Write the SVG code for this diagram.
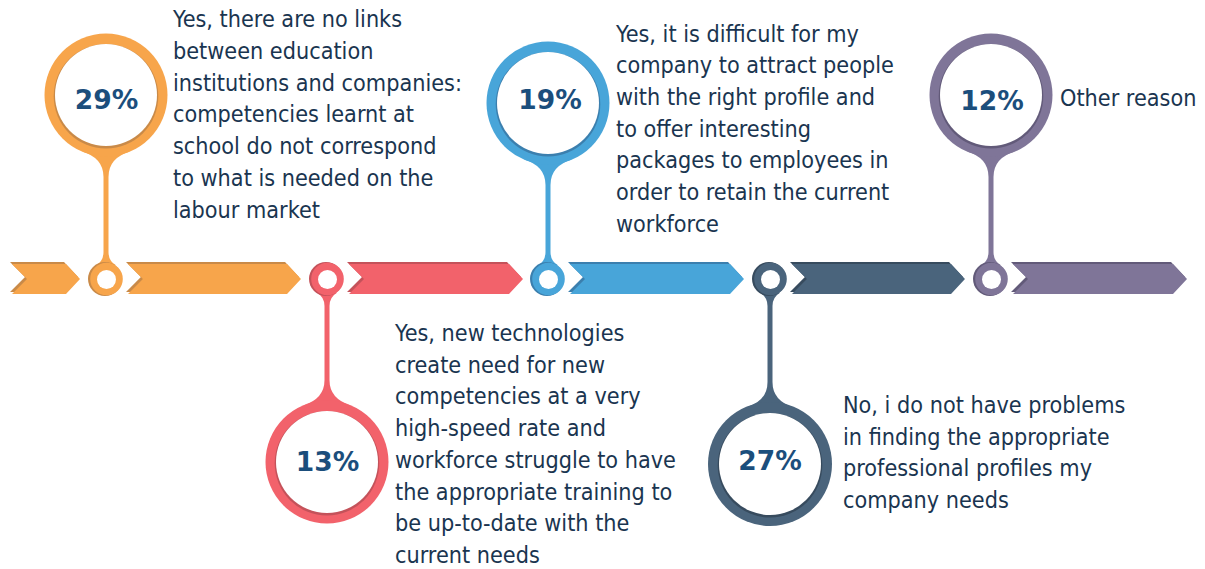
<svg xmlns="http://www.w3.org/2000/svg" width="1205" height="569" viewBox="0 0 1205 569">
<style>
.lbl{font-family:"DejaVu Sans Condensed","DejaVu Sans",sans-serif;font-stretch:condensed;font-size:23.2px;fill:#1a3550}
.pct{font-family:"DejaVu Sans",sans-serif;font-weight:bold;font-size:26.5px;fill:#1b4e7c;text-anchor:middle}
.hole{fill:#ffffff}
.o{fill:#f7a54b}.od{fill:#c98a48}
.r{fill:#f2626b}.rd{fill:#c4525a}
.b{fill:#48a5d9}.bd{fill:#3b7fae}
.s{fill:#4a647c}.sd{fill:#374b5e}
.p{fill:#7f7598}.pd{fill:#625a79}
</style>
<defs>
<polygon id="chev1" points="0,0 54,0 68,15 54,30 0,30 15,15"/>
<polygon id="chevL" points="0,0 160,0 174,15 160,30 0,30 15,15"/>
</defs>
<rect width="1205" height="569" fill="#ffffff"/>
<g id="connectors">
<use href="#chev1" class="od" transform="translate(10,262)"/>
<use href="#chev1" class="o" transform="translate(12,264)"/>
<use href="#chevL" class="od" transform="translate(126,262) scale(0.994,1)"/>
<use href="#chevL" class="o" transform="translate(128,264) scale(0.994,1)"/>
<use href="#chevL" class="rd" transform="translate(347,262)"/>
<use href="#chevL" class="r" transform="translate(349,264)"/>
<use href="#chevL" class="bd" transform="translate(568,262)"/>
<use href="#chevL" class="b" transform="translate(570,264)"/>
<use href="#chevL" class="sd" transform="translate(790,262) scale(0.994,1)"/>
<use href="#chevL" class="s" transform="translate(792,264) scale(0.994,1)"/>
<use href="#chevL" class="pd" transform="translate(1011,262)"/>
<use href="#chevL" class="p" transform="translate(1013,264)"/>
</g>
<g id="node-29">
<path class="o" d="M82,151.6 Q103.5,158 103.5,177 L103.5,252 Q103.5,261 96,265.3 L116,265.3 Q108.5,261 108.5,252 L108.5,177 Q108.5,158 130,151.6 Z"/>
<circle class="o" cx="106" cy="95" r="61.5"/>
<circle class="od" cx="106" cy="96.2" r="52.3"/>
<circle class="hole" cx="106" cy="95" r="51"/>
<circle class="od" cx="105" cy="279" r="17"/>
<circle class="o" cx="106.5" cy="279" r="16.3"/>
<circle class="hole" cx="106.5" cy="279.5" r="9.5"/>
<text class="pct" x="106.5" y="109">29%</text>
<text class="lbl" x="173">
<tspan x="173" y="27.3">Yes, there are no links</tspan>
<tspan x="173" y="59">between education</tspan>
<tspan x="173" y="90.7">institutions and companies:</tspan>
<tspan x="173" y="122.4">competencies learnt at</tspan>
<tspan x="173" y="154.1">school do not correspond</tspan>
<tspan x="173" y="185.8">to what is needed on the</tspan>
<tspan x="173" y="217.5">labour market</tspan>
</text>
</g>
<g id="node-13">
<path class="r" d="M317,292.7 Q324.5,297 324.5,306 L324.5,380 Q324.5,399 303,405.4 L351,405.4 Q329.5,399 329.5,380 L329.5,306 Q329.5,297 337,292.7 Z"/>
<circle class="r" cx="327" cy="462" r="61.5"/>
<circle class="rd" cx="327" cy="463.2" r="52.3"/>
<circle class="hole" cx="327" cy="462" r="51"/>
<circle class="rd" cx="326" cy="279" r="17"/>
<circle class="r" cx="327.5" cy="279" r="16.3"/>
<circle class="hole" cx="327.5" cy="279.5" r="9.5"/>
<text class="pct" x="327.5" y="471">13%</text>
<text class="lbl" x="395">
<tspan x="395" y="341">Yes, new technologies</tspan>
<tspan x="395" y="372.7">create need for new</tspan>
<tspan x="395" y="404.4">competencies at a very</tspan>
<tspan x="395" y="436.1">high-speed rate and</tspan>
<tspan x="395" y="467.8">workforce struggle to have</tspan>
<tspan x="395" y="499.5">the appropriate training to</tspan>
<tspan x="395" y="531.2">be up-to-date with the</tspan>
<tspan x="395" y="562.9">current needs</tspan>
</text>
</g>
<g id="node-19">
<path class="b" d="M524,159.6 Q545.5,166 545.5,185 L545.5,252 Q545.5,261 538,265.3 L558,265.3 Q550.5,261 550.5,252 L550.5,185 Q550.5,166 572,159.6 Z"/>
<circle class="b" cx="548" cy="103" r="61.5"/>
<circle class="bd" cx="548" cy="104.2" r="52.3"/>
<circle class="hole" cx="548" cy="103" r="51"/>
<circle class="bd" cx="547" cy="279" r="17"/>
<circle class="b" cx="548.5" cy="279" r="16.3"/>
<circle class="hole" cx="548.5" cy="279.5" r="9.5"/>
<text class="pct" x="550" y="109">19%</text>
<text class="lbl" x="616">
<tspan x="616" y="41.5">Yes, it is difficult for my</tspan>
<tspan x="616" y="73.2">company to attract people</tspan>
<tspan x="616" y="104.9">with the right profile and</tspan>
<tspan x="616" y="136.6">to offer interesting</tspan>
<tspan x="616" y="168.3">packages to employees in</tspan>
<tspan x="616" y="200">order to retain the current</tspan>
<tspan x="616" y="231.7">workforce</tspan>
</text>
</g>
<g id="node-27">
<path class="s" d="M760,292.7 Q767.5,297 767.5,306 L767.5,382 Q767.5,401 746,407.4 L794,407.4 Q772.5,401 772.5,382 L772.5,306 Q772.5,297 780,292.7 Z"/>
<circle class="s" cx="770" cy="464" r="62"/>
<circle class="sd" cx="770" cy="465.2" r="52.3"/>
<circle class="hole" cx="770" cy="464" r="51"/>
<circle class="sd" cx="769" cy="279" r="17"/>
<circle class="s" cx="770.5" cy="279" r="16.3"/>
<circle class="hole" cx="770.5" cy="279.5" r="9.5"/>
<text class="pct" x="770" y="470">27%</text>
<text class="lbl" x="843">
<tspan x="843" y="412.8">No, i do not have problems</tspan>
<tspan x="843" y="444.5">in finding the appropriate</tspan>
<tspan x="843" y="476.2">professional profiles my</tspan>
<tspan x="843" y="507.9">company needs</tspan>
</text>
</g>
<g id="node-12">
<path class="p" d="M967,151.6 Q988.5,158 988.5,177 L988.5,252 Q988.5,261 981,265.3 L1001,265.3 Q993.5,261 993.5,252 L993.5,177 Q993.5,158 1015,151.6 Z"/>
<circle class="p" cx="991" cy="95" r="61.5"/>
<circle class="pd" cx="991" cy="96.2" r="52.3"/>
<circle class="hole" cx="991" cy="95" r="51"/>
<circle class="pd" cx="990" cy="279" r="17"/>
<circle class="p" cx="991.5" cy="279" r="16.3"/>
<circle class="hole" cx="991.5" cy="279.5" r="9.5"/>
<text class="pct" x="992" y="109.5">12%</text>
<text class="lbl" x="1060" y="106">Other reason</text>
</g>
</svg>
